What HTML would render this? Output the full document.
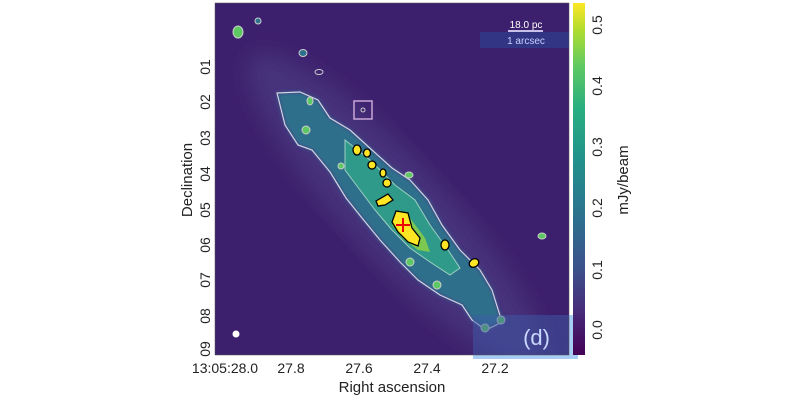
<!DOCTYPE html>
<html><head><meta charset="utf-8"><style>
body{margin:0;background:#fff;width:800px;height:400px;overflow:hidden;font-family:"Liberation Sans",sans-serif}
</style></head><body>
<svg width="800" height="400" xmlns="http://www.w3.org/2000/svg" font-family="Liberation Sans, sans-serif">
<defs>
<linearGradient id="cb" x1="0" y1="1" x2="0" y2="0">
<stop offset="0" stop-color="#440154"/><stop offset="0.13" stop-color="#472d7b"/><stop offset="0.25" stop-color="#3b528b"/><stop offset="0.4" stop-color="#2c728e"/><stop offset="0.55" stop-color="#21918c"/><stop offset="0.7" stop-color="#28ae80"/><stop offset="0.82" stop-color="#5ec962"/><stop offset="0.92" stop-color="#addc30"/><stop offset="1" stop-color="#fde725"/></linearGradient>
<filter id="bl"><feGaussianBlur stdDeviation="10"/></filter>
<filter id="bl2"><feGaussianBlur stdDeviation="2"/></filter>
<clipPath id="cp"><rect x="215" y="3" width="354" height="352"/></clipPath>
</defs>
<g clip-path="url(#cp)">
<rect x="215" y="3" width="354" height="352" fill="#3d206d"/>
<ellipse cx="395" cy="210" rx="210" ry="50" transform="rotate(47 395 210)" fill="#46307c" filter="url(#bl)"/>
<path d="M277,93 L300,92 L318,100 L330,118 L350,130 L372,150 L392,168 L410,180 L428,200 L442,225 L460,250 L480,270 L492,290 L502,322 L486,330 L472,320 L462,305 L440,295 L418,280 L400,262 L380,240 L362,218 L346,198 L330,172 L312,150 L298,145 L285,125 L280,105 Z" fill="#2e6f8c" filter="url(#bl2)"/>
<path d="M277,93 L300,92 L318,100 L330,118 L350,130 L372,150 L392,168 L410,180 L428,200 L442,225 L460,250 L480,270 L492,290 L502,322 L486,330 L472,320 L462,305 L440,295 L418,280 L400,262 L380,240 L362,218 L346,198 L330,172 L312,150 L298,145 L285,125 L280,105 Z" fill="none" stroke="#d6d0e6" stroke-width="1.2"/>
<path d="M345,140 L370,160 L395,185 L415,200 L430,225 L448,250 L460,268 L450,275 L430,262 L410,248 L392,230 L375,210 L360,190 L345,170 Z" fill="#2f9a8a" stroke="#9ed0c0" stroke-width="1"/>
<path d="M395,215 L410,218 L425,238 L430,252 L418,250 L402,238 L392,225 Z" fill="#7cc850"/>
<g fill="#fde725" stroke="#000" stroke-width="1.3">
<path d="M396,211 L408,213 L412,228 L420,238 L418,246 L408,242 L398,232 L392,222 Z"/>
<path d="M376,201 L388,194 L393,200 L385,205 L378,206 Z"/>
<ellipse cx="357" cy="150" rx="4" ry="5"/><ellipse cx="367" cy="153" rx="3.5" ry="4"/>
<ellipse cx="372" cy="165" rx="4" ry="4"/><ellipse cx="383" cy="173" rx="3" ry="4"/>
<ellipse cx="387" cy="183" rx="4" ry="4"/><ellipse cx="445" cy="245" rx="4" ry="5"/>
<ellipse cx="474" cy="263" rx="5" ry="4" transform="rotate(-30 474 263)"/>
</g>
<g fill="#5ec962" stroke="#ccc" stroke-width="1">
<ellipse cx="238" cy="32" rx="5" ry="6"/><ellipse cx="258" cy="21" rx="3" ry="3" fill="#2c728e"/>
<ellipse cx="303" cy="53" rx="4" ry="3.5" fill="#2c728e"/><ellipse cx="319" cy="72" rx="4" ry="2.5" fill="none"/>
<ellipse cx="310" cy="101" rx="3" ry="4"/><ellipse cx="306" cy="130" rx="4" ry="4"/>
<ellipse cx="341" cy="166" rx="3" ry="3"/><ellipse cx="409" cy="175" rx="4" ry="3"/>
<ellipse cx="410" cy="262" rx="4" ry="4"/><ellipse cx="437" cy="285" rx="4" ry="4"/>
<ellipse cx="485" cy="328" rx="4" ry="4"/><ellipse cx="501" cy="320" rx="4" ry="4"/>
<ellipse cx="542" cy="236" rx="4" ry="3"/>
</g>
<rect x="354" y="101" width="18" height="18" fill="none" stroke="#c9a6d6" stroke-width="1.5"/>
<ellipse cx="363" cy="110" rx="2" ry="2" fill="none" stroke="#ccc"/>
<circle cx="236" cy="334" r="3.5" fill="#fff"/>
<line x1="403" y1="218" x2="403" y2="232" stroke="#e00" stroke-width="2"/><line x1="396" y1="225" x2="410" y2="225" stroke="#e00" stroke-width="2"/>
<rect x="480" y="32" width="89" height="16" fill="#2f3a8a" opacity="0.8"/>
<line x1="508" y1="31" x2="543" y2="31" stroke="#c8c0e8" stroke-width="2"/>
<text x="526" y="28" font-size="10" fill="#fff" text-anchor="middle">18.0 pc</text>
<text x="526" y="44" font-size="10" fill="#c8d0ff" text-anchor="middle">1 arcsec</text>
</g>
<rect x="473" y="315" width="96" height="40" fill="#3e5aa6" opacity="0.5"/>
<path d="M473,355 L473,359 L578,359 L578,315 L569,315 L569,355 Z" fill="#a8cdf4"/>
<text x="550" y="345" font-size="22" fill="#c8d8ff" text-anchor="end">(d)</text>
<rect x="215" y="3" width="354" height="352" fill="none" stroke="#555" stroke-width="0.5"/>
<rect x="573" y="3" width="12" height="352" fill="url(#cb)"/>
<g font-size="14" fill="#222" text-anchor="middle">
<text x="225" y="373">13:05:28.0</text><text x="291" y="373">27.8</text><text x="359" y="373">27.6</text><text x="427" y="373">27.4</text><text x="495" y="373">27.2</text>
<text x="392" y="392" font-size="15">Right ascension</text>
<g>
<text transform="translate(210,67) rotate(-90)">01</text><text transform="translate(210,102) rotate(-90)">02</text><text transform="translate(210,138) rotate(-90)">03</text><text transform="translate(210,174) rotate(-90)">04</text><text transform="translate(210,210) rotate(-90)">05</text><text transform="translate(210,245) rotate(-90)">06</text><text transform="translate(210,280) rotate(-90)">07</text><text transform="translate(210,316) rotate(-90)">08</text><text transform="translate(210,349) rotate(-90)">09</text>
<text transform="translate(192,180) rotate(-90)" font-size="15">Declination</text>
<text transform="translate(602,25) rotate(-90)">0.5</text><text transform="translate(602,86) rotate(-90)">0.4</text><text transform="translate(602,147) rotate(-90)">0.3</text><text transform="translate(602,208) rotate(-90)">0.2</text><text transform="translate(602,270) rotate(-90)">0.1</text><text transform="translate(602,330) rotate(-90)">0.0</text>
<text transform="translate(628,180) rotate(-90)" font-size="15">mJy/beam</text>
</g></g>
</svg>
</body></html>
